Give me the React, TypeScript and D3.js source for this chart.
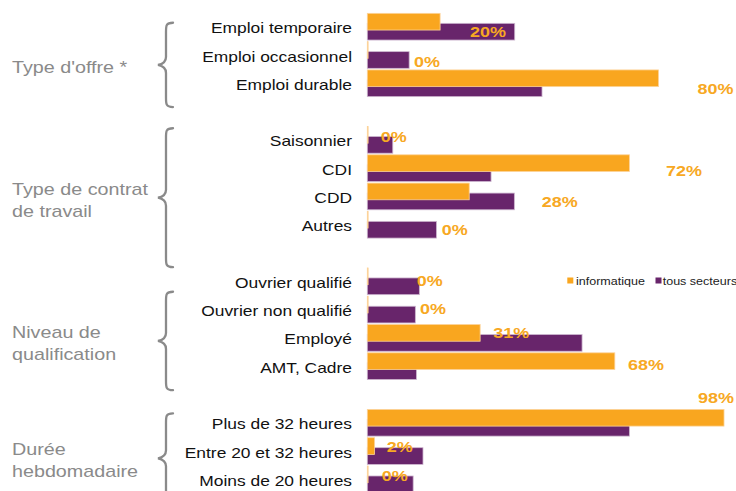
import React from "react";
import * as d3 from "d3";

const groupLabels = [
  ["Type d'offre *"],
  ["Type de contrat", "de travail"],
  ["Niveau de", "qualification"],
  ["Durée", "hebdomadaire"],
];
const groupCategories = [
  ["Emploi temporaire", "Emploi occasionnel", "Emploi durable"],
  ["Saisonnier", "CDI", "CDD", "Autres"],
  ["Ouvrier qualifié", "Ouvrier non qualifié", "Employé", "AMT, Cadre"],
  ["Plus de 32 heures", "Entre 20 et 32 heures", "Moins de 20 heures"],
];
const informatique = [20, 0, 80, 0, 72, 28, 0, 0, 0, 31, 68, 98, 2, 0];
const tousSecteurs = [40.5, 11.5, 48, 7, 34, 40.4, 19, 14.3, 13.2, 59, 13.5, 72, 15.3, 12.6];
const valueLabels = ["20%", "0%", "80%", "0%", "72%", "28%", "0%", "0%", "0%", "31%", "68%", "98%", "2%", "0%"];
const seriesNames = ["informatique", "tous secteurs"];

// label nudges (px) relative to bar end / slot centre
const labelDx = [30, 46.7, 39, 13.4, 36.6, 72.5, 74.4, 49.4, 52.7, 13.2, 13.2, -26, 12.1, 14.4];
const labelDy = [5.6, 7, 5.7, -3.2, 2.8, 5.3, 5.3, -0.6, -0.6, -4.6, -1.2, -24.5, -3.8, -3.6];
// brace extents in slot units
const braceSpans = [[0.36, 3.34], [4.09, 9.0], [9.87, 13.35], [14.17, 17.34]];

const ORANGE = "#F9A61F";
const PURPLE = "#68256B";
const GREY = "#8a8a8a";
const FONT = "'Liberation Sans', Arial, sans-serif";
const SX = 1.16;

type Slot = { key: string; label: string | null; idx: number };

export default function App() {
  const W = 736, H = 491;
  const slots: Slot[] = [];
  let idx = 0;
  groupCategories.forEach((cats, gi) => {
    cats.forEach((c) => slots.push({ key: c, label: c, idx: idx++ }));
    if (gi < groupCategories.length - 1) slots.push({ key: "sep" + gi, label: null, idx: -1 });
  });
  const y = d3.scaleBand<string>().domain(slots.map((s) => s.key)).range([12.55, 12.55 + slots.length * 28.29]).padding(0);
  const yUnit = d3.scaleLinear().domain([0, slots.length]).range([12.55, 12.55 + slots.length * 28.29]);
  const x = d3.scaleLinear().domain([0, 100]).range([367.3, 731.3]);
  const barH = 16.7;

  const txt = (tx: number, ty: number, s: string, props: any, key?: any) => (
    <g key={key} transform={`translate(${tx},${ty}) scale(${SX},1)`}>
      <text x={0} y={0} dominantBaseline="central" fontFamily={FONT} {...props}>{s}</text>
    </g>
  );

  const cats = slots.filter((s) => s.label !== null);

  return (
    <svg width={W} height={H} style={{ position: "absolute", left: 0, top: 0, background: "#fff" }}>
      {/* purple bars */}
      {cats.map((s) => {
        const c = y(s.key)! + y.bandwidth() / 2;
        return (
          <rect key={"p" + s.key} x={x(0)} y={c - 3.35} width={Math.max(0.8, x(tousSecteurs[s.idx]) - x(0))} height={barH}
            fill={PURPLE} stroke="#cdb6cf" strokeWidth={0.8} />
        );
      })}
      {/* orange bars */}
      {cats.map((s) => {
        const c = y(s.key)! + y.bandwidth() / 2;
        return (
          <rect key={"o" + s.key} x={x(0)} y={c - 13.35} width={Math.max(0.8, x(informatique[s.idx]) - x(0))} height={barH}
            fill={ORANGE} stroke="#fcd39a" strokeWidth={0.8} />
        );
      })}
      {/* category labels */}
      {cats.map((s) => txt(352, y(s.key)! + y.bandwidth() / 2 + 1, s.label!, { textAnchor: "end", fontSize: 15, fill: "#111" }, "l" + s.key))}
      {/* value labels */}
      {cats.map((s) =>
        txt(x(informatique[s.idx]) + labelDx[s.idx], y(s.key)! + y.bandwidth() / 2 + labelDy[s.idx], valueLabels[s.idx],
          { fontSize: 15.5, fontWeight: "bold", fill: "#F7A823" }, "v" + s.key)
      )}
      {/* braces and group labels */}
      {braceSpans.map(([a, b], i) => {
        const yT = yUnit(a), yB = yUnit(b), m = (yT + yB) / 2;
        const xr = 173, xv = 166, xt = 158;
        const path = `M${xr},${yT} C${xv},${yT} ${xv},${yT + 3} ${xv},${yT + 9} L${xv},${m - 8} C${xv},${m - 3} ${xv - 3},${m - 1} ${xt},${m}` +
          ` C${xv - 3},${m + 1} ${xv},${m + 3} ${xv},${m + 8} L${xv},${yB - 9} C${xv},${yB - 3} ${xv},${yB} ${xr},${yB}`;
        const lines = groupLabels[i];
        const lh = 22.3;
        const start = m + 2 - ((lines.length - 1) * lh) / 2;
        return (
          <g key={"b" + i}>
            <path d={path} fill="none" stroke={GREY} strokeWidth={2.3} strokeLinecap="round" />
            {lines.map((ln, j) => txt(12, start + j * lh, ln, { fontSize: 17, fill: GREY }, "g" + i + j))}
          </g>
        );
      })}
      {/* legend */}
      <rect x={567.3} y={277.5} width={6} height={6} fill={ORANGE} />
      {txt(576, 280.8, seriesNames[0], { fontSize: 10.8, fill: "#222" })}
      <rect x={655.5} y={277.5} width={6} height={6} fill={PURPLE} />
      {txt(662.7, 280.8, seriesNames[1], { fontSize: 10.8, fill: "#222" })}
    </svg>
  );
}
